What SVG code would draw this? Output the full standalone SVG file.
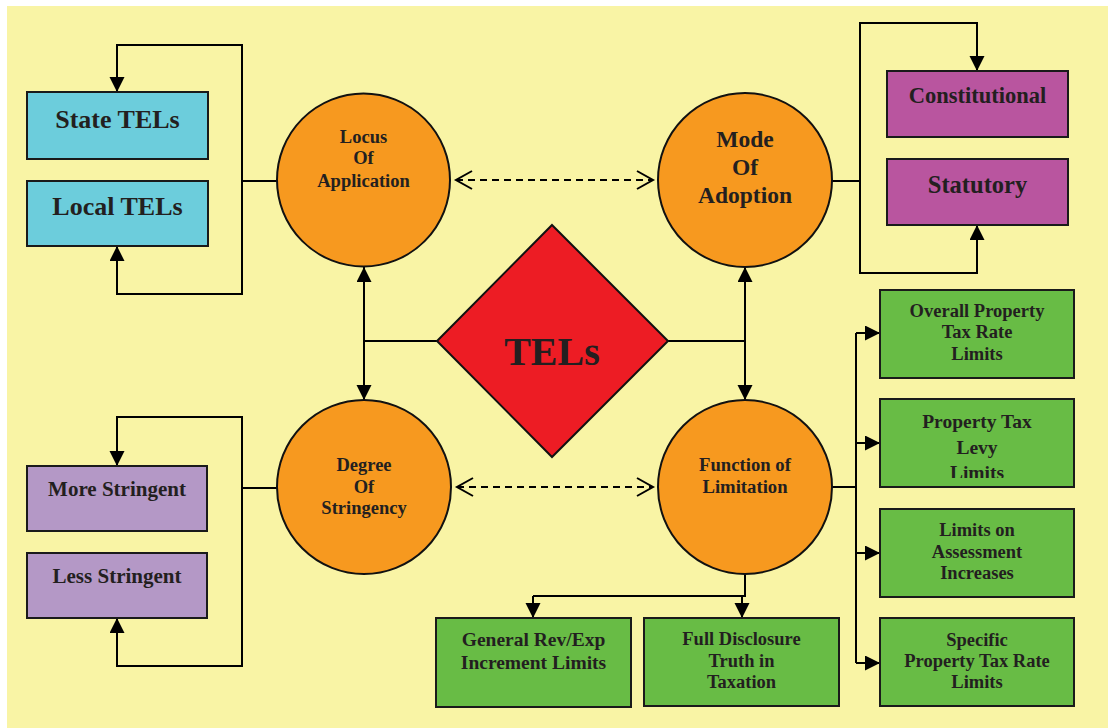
<svg xmlns="http://www.w3.org/2000/svg" width="1108" height="728" viewBox="0 0 1108 728">
<style>
.t{font-family:"Liberation Serif","Times New Roman",serif;font-weight:bold;fill:#231f20;text-anchor:middle}
.box{stroke:#1a1a1a;stroke-width:2}
.circ{fill:#f7991f;stroke:#111;stroke-width:2}
.ln{fill:none;stroke:#000;stroke-width:2}
.arr{marker-end:url(#ah)}
.dash{fill:none;stroke:#000;stroke-width:2;stroke-dasharray:7 5;marker-start:url(#oh);marker-end:url(#oh)}
</style>
<defs>
<marker id="ah" markerUnits="userSpaceOnUse" markerWidth="16" markerHeight="16" refX="15" refY="7.5" orient="auto">
<path d="M0,0 L15,7.5 L0,15 Z" fill="#000"/>
</marker>
<marker id="oh" markerUnits="userSpaceOnUse" markerWidth="20" markerHeight="22" refX="17" refY="10" orient="auto-start-reverse">
<path d="M1,1 L17,10 L1,19" fill="none" stroke="#000" stroke-width="2"/>
</marker>
<clipPath id="clip2"><rect x="880" y="399" width="194" height="79"/></clipPath>
</defs>
<rect x="7" y="6" width="1101" height="722" fill="#f9f4a5"/>

<g id="connectors">
<path class="ln" d="M242,181 H277"/>
<path class="ln arr" d="M242,181 V45 H117 V92"/>
<path class="ln arr" d="M242,181 V294 H117 V246"/>
<path class="ln" d="M242,488 H277"/>
<path class="ln arr" d="M242,488 V417 H117 V466"/>
<path class="ln arr" d="M242,488 V666 H117 V618"/>
<path class="ln" d="M832,181 H860"/>
<path class="ln arr" d="M860,181 V23 H977 V71"/>
<path class="ln arr" d="M860,181 V273 H977 V225"/>
<path class="ln" d="M832,487 H856 M856,333 V663"/>
<path class="ln arr" d="M856,333 H880"/>
<path class="ln arr" d="M856,443 H880"/>
<path class="ln arr" d="M856,553 H880"/>
<path class="ln arr" d="M856,663 H880"/>
<path class="ln" d="M745,574 V596 H533"/>
<path class="ln arr" d="M533,596 V618"/>
<path class="ln arr" d="M742,596 V618"/>
<path class="ln" d="M437,341 H364 M668,341 H745"/>
<path class="ln arr" d="M364,341 V267"/>
<path class="ln arr" d="M364,341 V400"/>
<path class="ln arr" d="M745,341 V267"/>
<path class="ln arr" d="M745,341 V400"/>
<path class="dash" d="M456,180 H653"/>
<path class="dash" d="M457,487 H653"/>
</g>

<g id="state-tels"><rect class="box" x="27" y="92" width="181" height="67" fill="#6ccddc"/><text class="t" x="117.5" y="128" font-size="26">State TELs</text></g>
<g id="local-tels"><rect class="box" x="27" y="181" width="181" height="65" fill="#6ccddc"/><text class="t" x="117.5" y="215" font-size="26">Local TELs</text></g>
<g id="more-stringent"><rect class="box" x="27" y="466" width="180" height="65" fill="#b498c6"/><text class="t" x="117" y="496" font-size="21">More Stringent</text></g>
<g id="less-stringent"><rect class="box" x="27" y="553" width="180" height="65" fill="#b498c6"/><text class="t" x="117" y="583" font-size="21">Less Stringent</text></g>
<g id="constitutional"><rect class="box" x="887" y="71" width="181" height="66" fill="#b9559f"/><text class="t" x="977.5" y="103" font-size="22.5">Constitutional</text></g>
<g id="statutory"><rect class="box" x="887" y="159" width="181" height="66" fill="#b9559f"/><text class="t" x="977.5" y="193" font-size="24.5">Statutory</text></g>

<g id="locus"><circle class="circ" cx="363.5" cy="180" r="86.5"/>
<text class="t" font-size="18.5"><tspan x="363.5" y="143">Locus</tspan><tspan x="363.5" y="164">Of</tspan><tspan x="363.5" y="187">Application</tspan></text></g>
<g id="mode"><circle class="circ" cx="745" cy="180" r="87"/>
<text class="t" font-size="23.5"><tspan x="745" y="147">Mode</tspan><tspan x="745" y="175">Of</tspan><tspan x="745" y="203">Adoption</tspan></text></g>
<g id="degree"><circle class="circ" cx="364" cy="487" r="87"/>
<text class="t" font-size="18.5"><tspan x="364" y="471">Degree</tspan><tspan x="364" y="493">Of</tspan><tspan x="364" y="514">Stringency</tspan></text></g>
<g id="function"><circle class="circ" cx="745" cy="487" r="87"/>
<text class="t" font-size="18.7"><tspan x="745" y="471">Function of</tspan><tspan x="745" y="493">Limitation</tspan></text></g>

<g id="tels"><path d="M552,225 L668,341 L552,457 L437,341 Z" fill="#ed1c24" stroke="#111" stroke-width="2"/><text class="t" x="552" y="365" font-size="40">TELs</text></g>

<g id="overall"><rect class="box" x="880" y="290" width="194" height="88" fill="#68bc45"/>
<text class="t" font-size="18.5"><tspan x="977" y="317">Overall Property</tspan><tspan x="977" y="338">Tax Rate</tspan><tspan x="977" y="360">Limits</tspan></text></g>
<g id="levy"><rect class="box" x="880" y="399" width="194" height="88" fill="#68bc45"/>
<text class="t" font-size="19.5" clip-path="url(#clip2)"><tspan x="977" y="428">Property Tax</tspan><tspan x="977" y="454">Levy</tspan><tspan x="977" y="479">Limits</tspan></text></g>
<g id="assessment"><rect class="box" x="880" y="509" width="194" height="88" fill="#68bc45"/>
<text class="t" font-size="18.5"><tspan x="977" y="536">Limits on</tspan><tspan x="977" y="558">Assessment</tspan><tspan x="977" y="579">Increases</tspan></text></g>
<g id="specific"><rect class="box" x="880" y="618" width="194" height="88" fill="#68bc45"/>
<text class="t" font-size="18.5"><tspan x="977" y="646">Specific</tspan><tspan x="977" y="667">Property Tax Rate</tspan><tspan x="977" y="688">Limits</tspan></text></g>
<g id="general"><rect class="box" x="436" y="618" width="195" height="89" fill="#68bc45"/>
<text class="t" font-size="19.5"><tspan x="533.5" y="646">General Rev/Exp</tspan><tspan x="533.5" y="669">Increment Limits</tspan></text></g>
<g id="disclosure"><rect class="box" x="644" y="618" width="195" height="88" fill="#68bc45"/>
<text class="t" font-size="18.5"><tspan x="741.5" y="645">Full Disclosure</tspan><tspan x="741.5" y="667">Truth in</tspan><tspan x="741.5" y="688">Taxation</tspan></text></g>
</svg>
